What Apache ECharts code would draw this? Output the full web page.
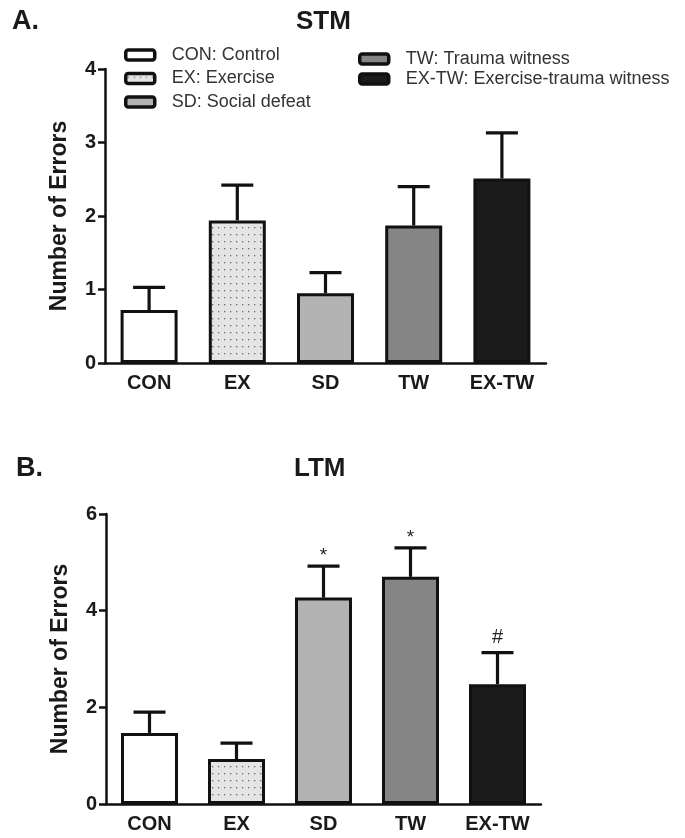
<!DOCTYPE html>
<html>
<head>
<meta charset="utf-8">
<script src="https://cdn.jsdelivr.net/npm/echarts@6/dist/echarts.min.js"></script>
<style>
html,body{margin:0;padding:0;background:#fff;}
#chart{width:685px;height:838px;}
</style>
</head>
<body>
<div id="chart"></div>
<script>
// ---- data ----
const categories = ['CON', 'EX', 'SD', 'TW', 'EX-TW'];
const legendNames = ['CON: Control', 'EX: Exercise', 'SD: Social defeat', 'TW: Trauma witness', 'EX-TW: Exercise-trauma witness'];
const stmMean = [0.72, 1.94, 0.95, 1.87, 2.51];
const stmSem = [0.31, 0.48, 0.28, 0.53, 0.62];
const ltmMean = [1.47, 0.93, 4.27, 4.70, 2.48];
const ltmSem = [0.43, 0.33, 0.65, 0.60, 0.65];
const ltmMarks = ['', '', '*', '*', '#'];
const stmTicks = { min: 0, max: 4, interval: 1 };
const ltmTicks = { min: 0, max: 6, interval: 2 };

// ---- styling ----
const FONT = 'Liberation Sans, Arial, sans-serif';
const dotCanvas = document.createElement('canvas');
dotCanvas.width = 6; dotCanvas.height = 7;
(function () {
  const c = dotCanvas.getContext('2d');
  c.fillStyle = '#e4e4e4'; c.fillRect(0, 0, 6, 7);
  c.fillStyle = '#6a6a6a'; c.fillRect(2, 3, 1.3, 1.3);
})();
const fills = ['#ffffff', { image: dotCanvas, repeat: 'repeat' }, '#b3b3b3', '#858585', '#1b1b1b'];

const chart = echarts.init(document.getElementById('chart'), null, { renderer: 'canvas' });

function barSeries(means, gridIdx) {
  return categories.map((c, i) => ({
    type: 'bar',
    name: legendNames[i],
    xAxisIndex: gridIdx,
    yAxisIndex: gridIdx,
    barWidth: 57,
    barGap: '-100%',
    data: categories.map((_, j) => (j === i ? means[j] : '-')),
    itemStyle: { color: fills[i], borderColor: '#111', borderWidth: 3 },
    emphasis: { disabled: true },
    animation: false,
    z: 2
  }));
}

function errSeries(means, sems, marks, gridIdx) {
  return {
    type: 'custom',
    xAxisIndex: gridIdx,
    yAxisIndex: gridIdx,
    animation: false,
    z: 3,
    data: categories.map((c, i) => [i, means[i], sems[i]]),
    renderItem: function (params, api) {
      const i = api.value(0);
      const m = api.value(1);
      const s = api.value(2);
      const mark = marks ? marks[params.dataIndex] : '';
      const base = api.coord([i, m]);
      const top = api.coord([i, m + s]);
      const st = { stroke: '#111', lineWidth: 3.2 };
      const children = [
        { type: 'line', shape: { x1: base[0], y1: base[1], x2: top[0], y2: top[1] }, style: st },
        { type: 'line', shape: { x1: top[0] - 16, y1: top[1], x2: top[0] + 16, y2: top[1] }, style: st }
      ];
      if (mark) {
        children.push({
          type: 'text',
          style: {
            text: mark, x: top[0], y: top[1] - (mark === '#' ? 5 : 1),
            align: 'center', verticalAlign: 'bottom',
            fill: '#222', font: (mark === '#' ? '20px ' : '19px ') + FONT
          }
        });
      }
      return { type: 'group', children: children };
    }
  };
}

function xAxisCfg(gridIdx) {
  return {
    type: 'category', gridIndex: gridIdx, data: categories,
    axisLine: { lineStyle: { color: '#111', width: 2.5 } },
    axisTick: { show: false },
    axisLabel: { color: '#1a1a1a', fontFamily: FONT, fontWeight: 'bold', fontSize: 20, margin: 10 }
  };
}
function yAxisCfg(gridIdx, t) {
  return {
    type: 'value', gridIndex: gridIdx, min: t.min, max: t.max, interval: t.interval,
    name: 'Number of Errors', nameLocation: 'middle', nameGap: 34,
    nameTextStyle: { color: '#1a1a1a', fontFamily: FONT, fontWeight: 'bold', fontSize: 23 },
    axisLine: { show: true, lineStyle: { color: '#111', width: 2.5 } },
    axisTick: { show: true, length: 7, lineStyle: { color: '#111', width: 2.5 } },
    splitLine: { show: false },
    axisLabel: { color: '#1a1a1a', fontFamily: FONT, fontWeight: 'bold', fontSize: 20, margin: 9 }
  };
}

const legendText = { color: '#333', fontFamily: FONT, fontSize: 18, lineHeight: 20, padding: [0, 0, 0, 12] };
const legendItem = { borderColor: '#111', borderWidth: 3.5 };
const option = {
  backgroundColor: '#ffffff',
  animation: false,
  title: [
    { text: 'A.', left: 12, top: 8, padding: 0, textStyle: { fontFamily: FONT, fontWeight: 'bold', fontSize: 27, color: '#1a1a1a' } },
    { text: 'STM', left: 296, top: 9, padding: 0, textStyle: { fontFamily: FONT, fontWeight: 'bold', fontSize: 26, color: '#1a1a1a' } },
    { text: 'B.', left: 16, top: 455, padding: 0, textStyle: { fontFamily: FONT, fontWeight: 'bold', fontSize: 27, color: '#1a1a1a' } },
    { text: 'LTM', left: 294, top: 456, padding: 0, textStyle: { fontFamily: FONT, fontWeight: 'bold', fontSize: 26, color: '#1a1a1a' } }
  ],
  legend: [
    {
      data: legendNames.slice(0, 3), orient: 'vertical', left: 124, top: 45, padding: 0,
      icon: 'roundRect', itemWidth: 29, itemHeight: 10, itemGap: 3.5,
      itemStyle: legendItem, textStyle: legendText, selectedMode: false
    },
    {
      data: legendNames.slice(3), orient: 'vertical', left: 358, top: 49, padding: 0,
      icon: 'roundRect', itemWidth: 29, itemHeight: 10, itemGap: 0,
      itemStyle: legendItem, textStyle: legendText, selectedMode: false
    }
  ],
  grid: [
    { left: 105, top: 69, width: 441, height: 294 },
    { left: 106, top: 514, width: 435, height: 290 }
  ],
  xAxis: [xAxisCfg(0), xAxisCfg(1)],
  yAxis: [yAxisCfg(0, stmTicks), yAxisCfg(1, ltmTicks)],
  series: [].concat(
    barSeries(stmMean, 0),
    barSeries(ltmMean, 1),
    [errSeries(stmMean, stmSem, null, 0), errSeries(ltmMean, ltmSem, ltmMarks, 1)]
  )
};
chart.setOption(option);
</script>
</body>
</html>
